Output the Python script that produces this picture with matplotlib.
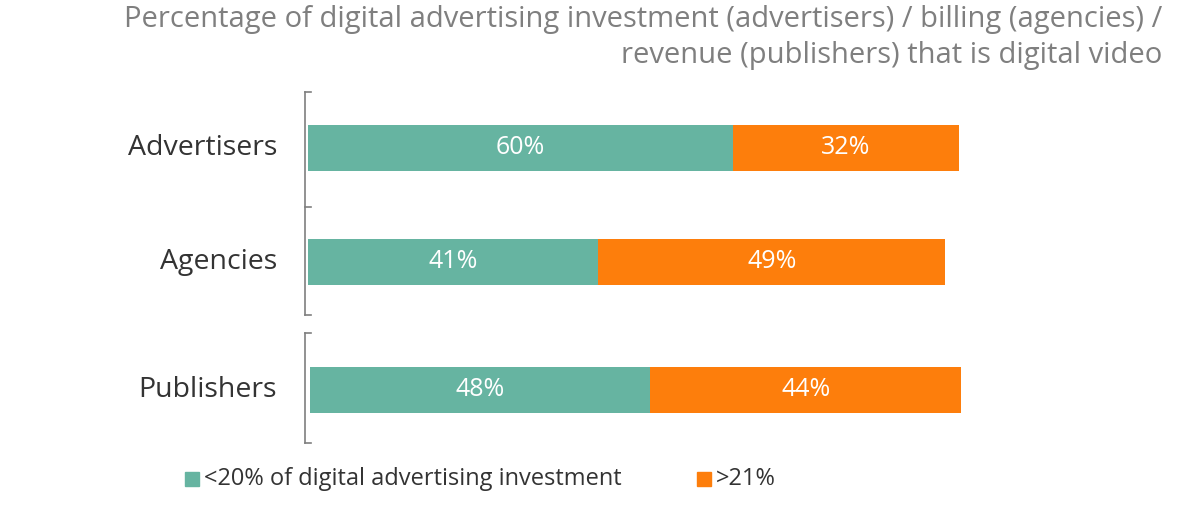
import matplotlib.pyplot as plt

categories = ["Advertisers", "Agencies", "Publishers"]
low_share = [60, 41, 48]
high_share = [32, 49, 44]
legend_labels = ["<20% of digital advertising investment", ">21%"]
title_lines = ["Percentage of digital advertising investment (advertisers) / billing (agencies) /",
               "revenue (publishers) that is digital video"]

GREEN = "#66b4a1"
ORANGE = "#fd7e0c"
GRAY = "#7f7f7f"

plt.rcParams['font.family'] = ['Open Sans', 'DejaVu Sans']

fig = plt.figure(figsize=(12, 5.14), dpi=100)
ax = fig.add_axes([0, 0, 1, 1])
scale = 7.08  # pixels per percent
ax.set_xlim(-308 / scale, 892 / scale)
ax.set_ylim(514, 0)
ax.axis("off")

ypos = [148, 262, 390]
xoff = [0, 0, 0.3]
h = 46
for y, c, lo, hi, xo in zip(ypos, categories, low_share, high_share, xoff):
    ax.barh(y, lo, left=xo, height=h, color=GREEN)
    ax.barh(y, hi, left=xo + lo, height=h, color=ORANGE)
    ax.text(xo + lo / 2, y, f"{lo}%", color="white", fontsize=18, ha="center", va="center")
    ax.text(xo + lo + hi / 2, y, f"{hi}%", color="white", fontsize=18, ha="center", va="center")
    ax.text(-31 / scale, y, c, fontsize=20.5, color="#333333", ha="right", va="center")

# bracket-like axis
lx = -3 / scale
tx = 3 / scale
for y0, y1 in [(92, 315), (333, 443)]:
    ax.plot([lx, lx], [y0, y1], color=GRAY, lw=1.2)
    ax.plot([lx, tx], [y0, y0], color=GRAY, lw=1.2)
    ax.plot([lx, tx], [y1, y1], color=GRAY, lw=1.2)
ax.plot([lx, tx], [207, 207], color=GRAY, lw=1.2)

for line, py in zip(title_lines, [20, 55]):
    fig.text(1162 / 1200, 1 - py / 514, line, ha="right", va="center",
             fontsize=21, color=GRAY)

# legend
for px, col, lab in [(185, GREEN, legend_labels[0]), (697, ORANGE, legend_labels[1])]:
    fig.patches.append(plt.Rectangle((px / 1200, 1 - 486 / 514), 14 / 1200, 14 / 514,
                                     transform=fig.transFigure, color=col))
    fig.text((px + 19) / 1200, 1 - 479 / 514, lab, fontsize=17, color="#333333", va="center")

fig.savefig("out.png", dpi=100)
